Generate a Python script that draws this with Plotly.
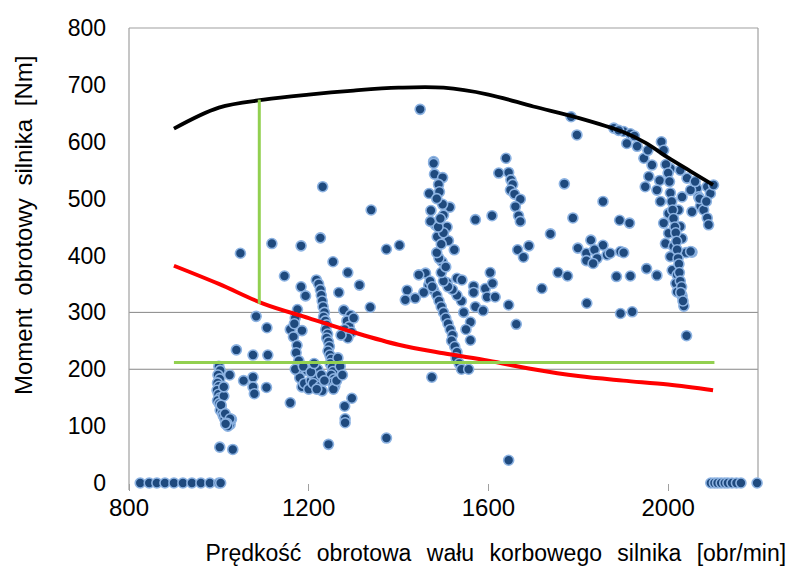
import plotly.graph_objects as go

# ---- measured operating points (engine speed [rpm], torque [Nm]) ----
speed_pts = [
    # zero-torque points (left / right)
    825, 845, 862, 880, 900, 920, 940, 960, 980, 1000, 1004,
    2095, 2103, 2110, 2118, 2126, 2133, 2142, 2152, 2162, 2198,
    # cluster ~1000 rpm
    1000, 1003, 998, 1002, 997, 1000, 996, 999, 1003, 997, 1001, 1005, 1003, 1008,
    1010, 1013, 1018, 1022, 1025, 1028, 1011, 1011, 1024, 1005, 1014, 1025, 1018, 1020, 1015,
    1002, 1031, 1039, 1076, 1109, 1083, 1107, 1055, 1076, 1076, 1079, 1106, 1159,
    1048, 1118, 1183, 1146, 1183,
    # cluster 1150-1210
    1175, 1159, 1185, 1166, 1174, 1172, 1174, 1196, 1185, 1193, 1170, 1168, 1178,
    1180, 1190, 1200, 1205, 1210, 1170, 1188,
    # cluster 1215-1260
    1217, 1222, 1226, 1228, 1230, 1232, 1235, 1233, 1237, 1240, 1238, 1242, 1240, 1244,
    1246, 1243, 1247, 1250, 1248, 1252, 1254, 1250, 1256, 1253, 1258, 1255, 1220, 1215,
    1210, 1225, 1230, 1205, 1212, 1228, 1235, 1218, 1231, 1226, 1254, 1287,
    # cluster 1265-1300
    1267, 1278, 1293, 1285, 1290, 1280, 1295, 1287, 1272, 1300, 1313, 1296, 1280, 1281,
    1281, 1244, 1265, 1270, 1262, 1275, 1337, 1373, 1339, 1373, 1402, 1419, 1448,
    # cluster ~1500
    1478, 1478, 1480, 1498, 1489, 1468, 1491, 1514, 1472, 1500, 1482, 1508, 1471, 1486,
    1511, 1524, 1497, 1460, 1508, 1445, 1467, 1530,
    1478, 1485, 1490, 1495, 1500, 1505, 1510, 1515, 1520, 1518, 1525, 1530, 1528, 1535,
    1540, 1556, 1560, 1560, 1550, 1545, 1540, 1530, 1520, 1510, 1500, 1495, 1505, 1490,
    1485, 1495, 1500, 1488, 1493, 1498, 1485, 1474, 1456, 1437, 1415, 1470, 1475,
    # around 1600
    1541, 1567, 1593, 1604, 1609, 1567, 1597, 1615, 1571, 1588, 1645, 1662, 1719, 1755,
    1776, 1819, 1645,
    # cluster 1620-1670
    1639, 1623, 1645, 1650, 1654, 1649, 1658, 1671, 1660, 1667, 1671,
    # cluster 1800-1865 and isolated
    1799, 1828, 1855, 1818, 1836, 1842, 1818, 1833, 1864,
    1784, 1797, 1769, 1855, 1788, 1571, 1608, 1738, 1665, 1690, 1678,
    # cluster 1870-2100
    1879, 1901, 1916, 1908, 1931, 1946, 1964, 1957, 1981, 1949, 1975, 1983, 2001, 1990,
    2023, 2027, 2001, 2031, 1994, 2012, 2053, 2040, 2005, 2009, 2020, 2017,
    2005, 2027, 2042, 2064, 2087, 2094, 2031, 2068, 2072, 2053, 2079, 2087, 2090, 2050, 2101,
    1892, 1914, 1894, 1901, 1871, 1952, 1975, 1916, 1885, 2050,
    2031, 2035, 1894, 1920, 2041, 2020,
    1985, 1990, 1995, 2000, 2003, 2005, 2008, 2010, 2012, 2015, 2017, 2019, 2020, 2022,
    2024, 2025, 2027, 2030, 2028, 2033, 1890, 1925, 1955, 2070, 2085, 2060,
]
torque_pts = [
    0, 0, 0, 0, 0, 0, 0, 0, 0, 0, 0,
    0, 0, 0, 0, 0, 0, 0, 0, 0, 0,
    205, 198, 190, 183, 176, 170, 163, 156, 150, 145, 140, 134, 128, 123,
    118, 113, 108, 105, 103, 112, 153, 169, 190, 137, 122, 113, 105, 100, 104,
    63, 59, 234, 225, 225, 293, 273, 180, 186, 169, 157, 168, 141,
    404, 421, 417, 364, 345,
    305, 270, 268, 257, 242, 229, 198, 198, 169, 329, 290, 280, 215,
    185, 175, 165, 180, 190, 200, 205,
    357, 350, 340, 330, 320, 310, 300, 292, 285, 278, 270, 262, 255, 248,
    240, 232, 225, 218, 210, 203, 196, 190, 183, 176, 170, 165, 200, 185,
    175, 170, 162, 195, 210, 190, 180, 165, 521, 431, 389, 370,
    335, 304, 295, 285, 275, 270, 265, 255, 260, 290, 348, 149, 135, 113,
    106, 68, 220, 205, 180, 190, 309, 79, 480, 411, 418, 339, 657,
    565, 562, 543, 537, 525, 509, 512, 485, 479, 471, 454, 450, 460, 433,
    426, 410, 389, 369, 352, 366, 348, 360,
    339, 330, 320, 310, 300, 290, 280, 270, 260, 250, 240, 230, 220, 210,
    200, 200, 283, 251, 270, 300, 320, 330, 340, 345, 355, 370, 380, 395,
    405, 420, 440, 450, 465, 490, 500, 186, 335, 325, 322, 355, 345,
    357, 346, 342, 370, 351, 335, 327, 327, 310, 303, 313, 279, 342, 370,
    364, 316, 40,
    571, 545, 546, 533, 525, 515, 508, 499, 486, 470, 460,
    413, 427, 418, 404, 410, 395, 391, 386, 401,
    644, 612, 526, 495, 466, 463, 470, 438, 410, 417, 397,
    624, 618, 614, 597, 592, 571, 559, 539, 532, 521, 515, 495, 474, 457,
    480, 451, 439, 430, 421, 416, 406, 405, 398, 374, 366, 351,
    553, 550, 536, 518, 521, 509, 503, 503, 487, 477, 480, 466, 454, 515, 524,
    462, 457, 407, 405, 404, 377, 365, 364, 363, 407,
    329, 311, 298, 301, 259, 336,
    600, 585, 560, 545, 530, 510, 495, 480, 465, 450, 440, 425, 410, 395,
    385, 370, 355, 345, 335, 320, 620, 610, 585, 500, 495, 530,
]

# ---- characteristic curves ----
curve_speed = [900, 1000, 1100, 1200, 1300, 1400, 1500, 1600, 1700, 1800, 1900, 1950, 2000, 2050, 2100]
max_torque = [623, 660, 674, 683, 690, 695, 695, 683, 662, 642, 617, 598, 572, 548, 524]
red_speed = [900, 1000, 1100, 1200, 1300, 1400, 1500, 1600, 1700, 1800, 1900, 2000, 2100]
red_torque = [382, 350, 315, 290, 265, 243, 228, 215, 200, 188, 180, 173, 163]
h_line_speed = [900, 2103]
h_line_torque = [212, 212]
v_line_speed = [1090, 1090]
v_line_torque = [674, 315]

x_ticks = [800, 1200, 1600, 2000]
y_ticks = [0, 100, 200, 300, 400, 500, 600, 700, 800]
grid_levels = [200, 300]

W, H = 794, 567
ML, MR, MT, MB = 129, 36, 28, 84
PW, PH = W - ML - MR, H - MT - MB

fig = go.Figure()
fig.add_trace(go.Scatter(
    x=speed_pts, y=torque_pts, mode="markers",
    marker=dict(size=10, color="#1F4A7E", line=dict(color="#8DB3E2", width=1.6)),
    cliponaxis=False, showlegend=False))
fig.add_trace(go.Scatter(x=curve_speed, y=max_torque, mode="lines",
                         line=dict(color="black", width=3.8, shape="spline"), showlegend=False))
fig.add_trace(go.Scatter(x=red_speed, y=red_torque, mode="lines",
                         line=dict(color="#FF0000", width=4, shape="spline"), showlegend=False))
fig.add_trace(go.Scatter(x=h_line_speed, y=h_line_torque, mode="lines",
                         line=dict(color="#92D050", width=3), showlegend=False))
fig.add_trace(go.Scatter(x=v_line_speed, y=v_line_torque, mode="lines",
                         line=dict(color="#92D050", width=3), showlegend=False))

shapes = []
for g in grid_levels:
    shapes.append(dict(type="line", xref="paper", yref="y", x0=0, x1=1, y0=g, y1=g,
                       line=dict(color="#868686", width=1), layer="below"))
# frame: top, right, left
shapes.append(dict(type="line", xref="paper", yref="paper", x0=0, x1=1, y0=1, y1=1,
                   line=dict(color="#A0A0A0", width=1.2), layer="below"))
shapes.append(dict(type="line", xref="paper", yref="paper", x0=1, x1=1, y0=0, y1=1,
                   line=dict(color="#A0A0A0", width=1.2), layer="below"))
shapes.append(dict(type="line", xref="paper", yref="paper", x0=0, x1=0, y0=-7 / PH, y1=1,
                   line=dict(color="#A0A0A0", width=1.2), layer="below"))

fig.update_layout(
    width=W, height=H,
    margin=dict(l=ML, r=MR, t=MT, b=MB, autoexpand=False),
    plot_bgcolor="white", paper_bgcolor="white",
    font=dict(family="Liberation Sans, Arial, sans-serif", color="black"),
    shapes=shapes,
    xaxis=dict(range=[800, 2200], tickvals=x_ticks, ticks="outside", ticklen=7,
               tickcolor="#A0A0A0", tickwidth=1, showgrid=False, zeroline=False,
               showline=False, tickfont=dict(size=24), ticklabelstandoff=-4),
    yaxis=dict(range=[0, 800], tickvals=y_ticks, ticks="", showgrid=False, zeroline=False,
               showline=False, tickfont=dict(size=23), ticklabelstandoff=22),
    annotations=[
        dict(text="Prędkość obrotowa wału korbowego silnika [obr/min]", xref="paper", yref="paper",
             x=(496 - ML) / PW, y=(H - MB - 553) / PH, showarrow=False,
             font=dict(size=23), xanchor="center", yanchor="middle"),
        dict(text="Moment obrotowy silnika [Nm]", xref="paper", yref="paper",
             x=(23 - ML) / PW, y=(H - MB - 226) / PH, showarrow=False,
             textangle=-90, font=dict(size=24), xanchor="center", yanchor="middle"),
    ],
)

post = """
document.body.style.margin='0';
function spacing(){
  var t = document.querySelectorAll('.annotation-text');
  t.forEach(function(el){
    if (el.textContent.indexOf('Pr')===0){ el.style.wordSpacing='9px'; }
    else { el.style.wordSpacing='6px'; }
  });
}
spacing(); setTimeout(spacing, 50);
"""
fig.write_html("out.html", post_script=post, config={"displayModeBar": False})
